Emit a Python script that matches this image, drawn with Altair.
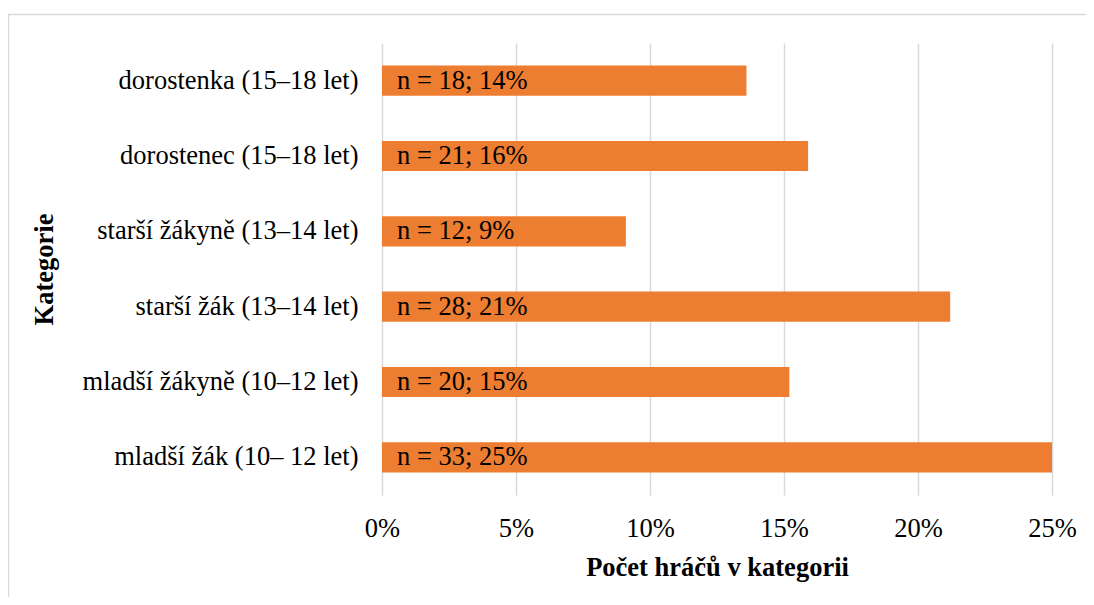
import altair as alt
import pandas as pd

categories = [
    "dorostenka (15–18 let)",
    "dorostenec (15–18 let)",
    "starší žákyně (13–14 let)",
    "starší žák (13–14 let)",
    "mladší žákyně (10–12 let)",
    "mladší žák (10– 12 let)",
]
counts = [18, 21, 12, 28, 20, 33]
shares = [0.136, 0.159, 0.091, 0.212, 0.152, 0.250]
bar_labels = [
    "n = 18; 14%",
    "n = 21; 16%",
    "n = 12; 9%",
    "n = 28; 21%",
    "n = 20; 15%",
    "n = 33; 25%",
]
x_ticks = [0, 0.05, 0.10, 0.15, 0.20, 0.25]

df = pd.DataFrame({"kategorie": categories, "n": counts, "podil": shares, "popisek": bar_labels})

FONT = "Liberation Serif"
FS = 26.5
W, H = 670, 452

y_enc = alt.Y(
    "kategorie:N",
    sort=categories,
    scale=alt.Scale(paddingInner=0.6, paddingOuter=0.3),
    axis=alt.Axis(
        title="Kategorie",
        titleFont=FONT,
        titleFontSize=FS,
        titleFontWeight="bold",
        titleColor="#000000",
        titleAngle=270,
        titleX=-338,
        titleY=H / 2,
        titleAlign="center",
        titleBaseline="middle",
        labelFont=FONT,
        labelFontSize=FS,
        labelColor="#000000",
        labelPadding=24,
        labelLimit=400,
        domain=False,
        ticks=False,
        grid=False,
    ),
)

x_enc = alt.X(
    "podil:Q",
    scale=alt.Scale(domain=[0, 0.25], nice=False),
    axis=alt.Axis(
        title="Počet hráčů v kategorii",
        titleFont=FONT,
        titleFontSize=FS,
        titleFontWeight="bold",
        titleColor="#000000",
        titleY=72,
        titleBaseline="middle",
        labelFont=FONT,
        labelFontSize=FS,
        labelColor="#000000",
        labelPadding=20,
        labelFlush=False,
        values=x_ticks,
        format=".0%",
        domain=False,
        ticks=False,
        grid=True,
        gridColor="#d9d9d9",
        gridWidth=1.5,
    ),
)

bars = alt.Chart(df).mark_bar(color="#ED7D31", cornerRadius=0).encode(x=x_enc, y=y_enc)

text = alt.Chart(df).mark_text(
    align="left", baseline="middle", dx=15, font=FONT, fontSize=FS, color="#000000"
).encode(x=alt.datum(0), y=alt.Y("kategorie:N", sort=categories), text="popisek:N")

border = alt.Chart(pd.DataFrame({"b": [0]})).mark_rect(
    fill=None, stroke="#d9d9d9", strokeWidth=1.5
).encode(
    x=alt.value(-373.5), x2=alt.value(720), y=alt.value(-28.5), y2=alt.value(575)
)

chart = (
    alt.layer(border, bars, text)
    .properties(
        width=W,
        height=H,
        autosize=alt.AutoSizeParams(type="none"),
        padding={"left": 374, "top": 35, "right": 34, "bottom": 102},
        background="#ffffff",
    )
    .configure_view(stroke=None)
)

chart.save("out.html", embed_options={"renderer": "svg", "actions": False})
